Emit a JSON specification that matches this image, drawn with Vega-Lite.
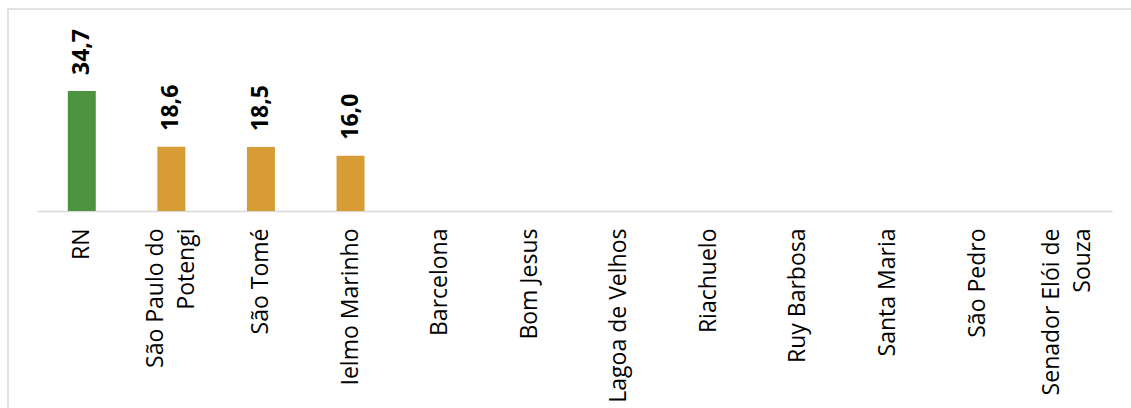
{
  "$schema": "https://vega.github.io/schema/vega-lite/v6.json",
  "autosize": "none",
  "width": 1126,
  "height": 402,
  "padding": {"left": 8, "top": 9, "right": -3, "bottom": -3},
  "background": "white",
  "config": {
    "view": {"stroke": "#D9D9D9", "strokeWidth": 1.5},
    "font": "Open Sans",
    "locale": {"number": {"decimal": ",", "thousands": ".", "grouping": [3], "currency": ["R$", ""]}}
  },
  "data": {
    "values": [
      {"local": "RN", "nivel": "Estado", "valor": 34.7},
      {"local": "São Paulo do Potengi", "nivel": "Município", "valor": 18.6},
      {"local": "São Tomé", "nivel": "Município", "valor": 18.5},
      {"local": "Ielmo Marinho", "nivel": "Município", "valor": 16.0},
      {"local": "Barcelona", "nivel": "Município", "valor": null},
      {"local": "Bom Jesus", "nivel": "Município", "valor": null},
      {"local": "Lagoa de Velhos", "nivel": "Município", "valor": null},
      {"local": "Riachuelo", "nivel": "Município", "valor": null},
      {"local": "Ruy Barbosa", "nivel": "Município", "valor": null},
      {"local": "Santa Maria", "nivel": "Município", "valor": null},
      {"local": "São Pedro", "nivel": "Município", "valor": null},
      {"local": "Senador Elói de Souza", "nivel": "Município", "valor": null}
    ]
  },
  "encoding": {
    "x": {
      "field": "local",
      "type": "nominal",
      "sort": null,
      "scale": {
        "domain": ["RN", "São Paulo do Potengi", "São Tomé", "Ielmo Marinho", "Barcelona", "Bom Jesus", "Lagoa de Velhos", "Riachuelo", "Ruy Barbosa", "Santa Maria", "São Pedro", "Senador Elói de Souza"],
        "range": [29, 1104],
        "paddingInner": 0.6875,
        "paddingOuter": 0.34375
      },
      "axis": {
        "title": null,
        "orient": "bottom",
        "offset": -200,
        "domainColor": "#D9D9D9",
        "domainWidth": 1.5,
        "ticks": false,
        "tickSize": 0,
        "grid": false,
        "labelAngle": -90,
        "labelPadding": 17,
        "labelFont": "Open Sans",
        "labelFontSize": 23,
        "labelColor": "black",
        "labelLimit": 0,
        "labelLineHeight": 31,
        "labelOverlap": false,
        "labelOffset": {"condition": {"test": "datum.value == 'São Paulo do Potengi' || datum.value == 'Senador Elói de Souza'", "value": -15}, "value": 0},
        "labelExpr": "datum.value == 'São Paulo do Potengi' ? ['São Paulo do', 'Potengi\u00a0\u00a0\u00a0\u00a0\u00a0'] : datum.value == 'Senador Elói de Souza' ? ['Senador Elói de', 'Souza\u00a0\u00a0\u00a0\u00a0\u00a0\u00a0\u00a0\u00a0'] : datum.value"
      }
    },
    "y": {
      "field": "valor",
      "type": "quantitative",
      "scale": {"domain": [0, 40], "range": [202, 63.7], "nice": false, "zero": true},
      "axis": null
    }
  },
  "layer": [
    {
      "mark": {"type": "bar"},
      "encoding": {
        "color": {
          "field": "nivel",
          "type": "nominal",
          "scale": {"domain": ["Estado", "Município"], "range": ["#4E9440", "#D89C37"]},
          "legend": null
        }
      }
    },
    {
      "mark": {"type": "text", "angle": -90, "align": "left", "baseline": "middle", "dx": 16, "fontWeight": "bold", "fontSize": 23, "font": "Open Sans", "color": "black"},
      "encoding": {
        "text": {"field": "valor", "type": "quantitative", "format": ".1f"}
      }
    }
  ]
}
